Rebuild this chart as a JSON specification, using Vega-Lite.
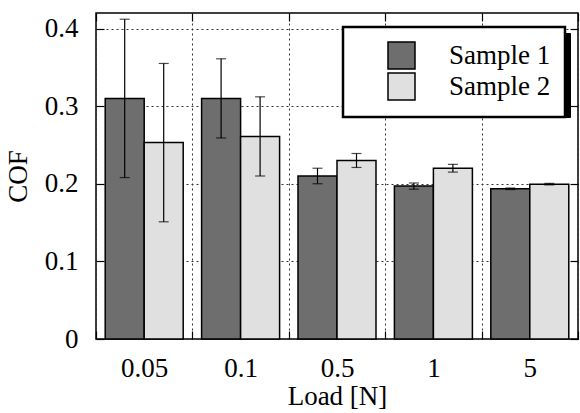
{
  "$schema": "https://vega.github.io/schema/vega-lite/v6.json",
  "width": 482,
  "height": 326,
  "autosize": "none",
  "padding": {"left": 96, "top": 13, "right": 2, "bottom": 74},
  "background": "white",
  "config": {
    "font": "Liberation Serif",
    "view": {"stroke": "black", "strokeWidth": 1.5},
    "axis": {
      "labelFont": "Liberation Serif",
      "titleFont": "Liberation Serif",
      "labelFontSize": 27,
      "titleFontSize": 27,
      "labelColor": "black",
      "titleColor": "black",
      "titleFontWeight": "normal",
      "tickColor": "black",
      "tickWidth": 1.2,
      "gridColor": "#333333",
      "gridDash": [2, 3],
      "gridWidth": 1
    }
  },
  "data": {
    "values": [
      {"load": "0.05", "sample": "Sample 1", "cof": 0.310, "lo": 0.208, "hi": 0.412},
      {"load": "0.05", "sample": "Sample 2", "cof": 0.253, "lo": 0.151, "hi": 0.355},
      {"load": "0.1", "sample": "Sample 1", "cof": 0.310, "lo": 0.259, "hi": 0.361},
      {"load": "0.1", "sample": "Sample 2", "cof": 0.261, "lo": 0.210, "hi": 0.312},
      {"load": "0.5", "sample": "Sample 1", "cof": 0.210, "lo": 0.200, "hi": 0.220},
      {"load": "0.5", "sample": "Sample 2", "cof": 0.230, "lo": 0.221, "hi": 0.239},
      {"load": "1", "sample": "Sample 1", "cof": 0.197, "lo": 0.193, "hi": 0.201},
      {"load": "1", "sample": "Sample 2", "cof": 0.220, "lo": 0.215, "hi": 0.225},
      {"load": "5", "sample": "Sample 1", "cof": 0.1935, "lo": 0.1925, "hi": 0.1945},
      {"load": "5", "sample": "Sample 2", "cof": 0.1995, "lo": 0.1985, "hi": 0.2005}
    ]
  },
  "layer": [
    {
      "mark": {"type": "bar", "stroke": "black", "strokeWidth": 1.5},
      "encoding": {
        "x": {
          "field": "load", "type": "nominal", "sort": null,
          "scale": {"paddingInner": 0, "paddingOuter": 0},
          "axis": {"orient": "bottom", "title": "Load [N]", "labelAngle": 0, "tickBand": "extent", "grid": true, "domain": false, "tickSize": -8, "labelPadding": 24, "titlePadding": 2}
        },
        "xOffset": {"field": "sample", "type": "nominal", "scale": {"paddingOuter": 0.236, "paddingInner": 0}},
        "y": {
          "field": "cof", "type": "quantitative",
          "scale": {"domain": [0, 0.42], "nice": false, "zero": true},
          "axis": {"orient": "left", "title": "COF", "values": [0, 0.1, 0.2, 0.3, 0.4], "format": "~g", "grid": true, "domain": false, "tickSize": -8, "labelPadding": 26, "titlePadding": 12}
        },
        "fill": {
          "field": "sample", "type": "nominal",
          "scale": {"range": ["#6e6e6e", "#e0e0e0"]},
          "legend": {
            "title": null, "orient": "none", "legendX": 247, "legendY": 14, "zindex": 3,
            "symbolType": "square", "symbolSize": 729, "symbolStrokeColor": "black", "symbolStrokeWidth": 1.5,
            "labelFontSize": 27, "labelFont": "Liberation Serif", "labelColor": "black",
            "labelOffset": 33, "symbolOffset": 30, "padding": 14,
            "fillColor": "white", "strokeColor": "black", "rowPadding": -7,
            "encode": {"legend": {"update": {"strokeWidth": {"value": 2.5}}}}
          }
        }
      }
    },
    {
      "mark": {"type": "rule", "color": "black", "strokeWidth": 1.2},
      "encoding": {
        "x": {"field": "load", "type": "nominal", "sort": null,
          "axis": {"orient": "top", "labels": false, "tickBand": "extent", "tickSize": -8, "grid": false, "domain": false, "title": null}},
        "xOffset": {"field": "sample", "type": "nominal"},
        "y": {"field": "lo", "type": "quantitative",
          "axis": {"orient": "right", "labels": false, "values": [0, 0.1, 0.2, 0.3, 0.4], "tickSize": -8, "grid": false, "domain": false, "title": null}},
        "y2": {"field": "hi"},
        "strokeDash": {
          "field": "sample", "type": "nominal",
          "scale": {"range": [[1, 0], [1, 0]]},
          "legend": {
            "title": null, "orient": "none", "legendX": 253, "legendY": 20, "zindex": 2,
            "symbolType": "square", "symbolSize": 729, "symbolOpacity": 0,
            "labelExpr": "''", "labelFontSize": 27, "labelFont": "Liberation Serif", "labelColor": "black",
            "labelOffset": 134, "symbolOffset": 30, "padding": 14,
            "fillColor": "black", "strokeColor": "black", "rowPadding": -7
          }
        }
      }
    },
    {
      "mark": {"type": "tick", "color": "black", "thickness": 1.2, "size": 10},
      "encoding": {
        "x": {"field": "load", "type": "nominal", "sort": null, "axis": null},
        "xOffset": {"field": "sample", "type": "nominal"},
        "y": {"field": "hi", "type": "quantitative", "axis": null}
      }
    },
    {
      "mark": {"type": "tick", "color": "black", "thickness": 1.2, "size": 10},
      "encoding": {
        "x": {"field": "load", "type": "nominal", "sort": null, "axis": null},
        "xOffset": {"field": "sample", "type": "nominal"},
        "y": {"field": "lo", "type": "quantitative", "axis": null}
      }
    }
  ],
  "resolve": {"axis": {"x": "independent", "y": "independent"}}
}
